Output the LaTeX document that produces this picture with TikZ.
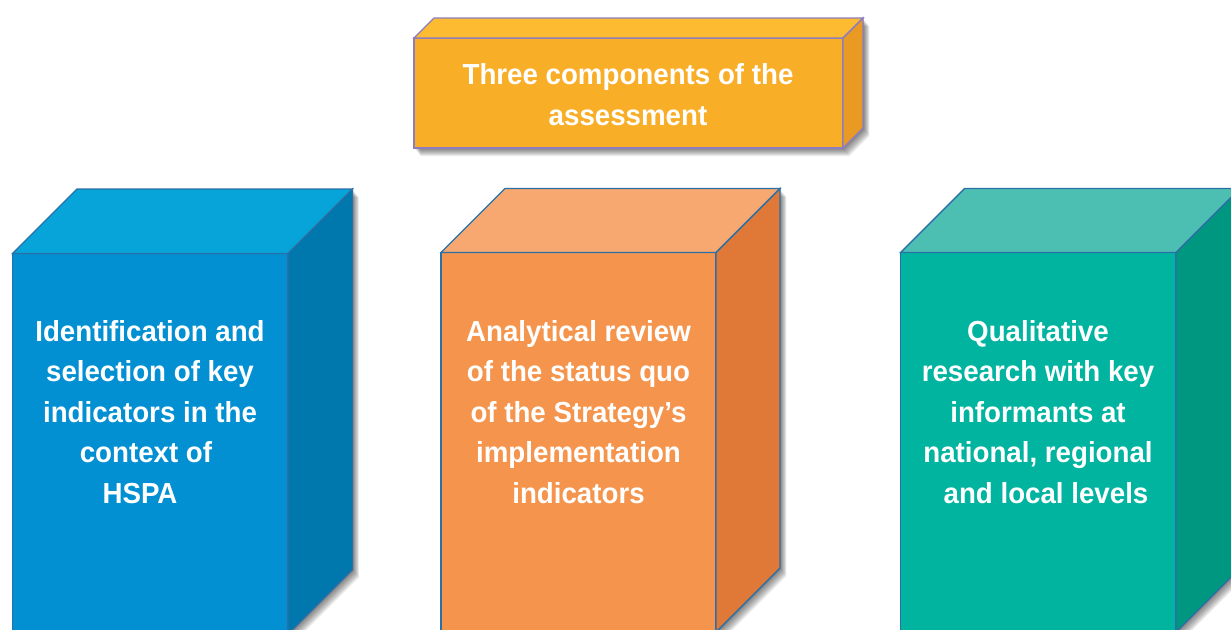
\documentclass[tikz,border=0pt]{standalone}
\usepackage{fontspec}
\setmainfont{Liberation Sans}
\newfontfamily\boxfont[FakeStretch=0.955]{Liberation Sans}
\begin{document}
\definecolor{hdFront}{HTML}{F9AE27}
\definecolor{hdTop}{HTML}{FCBB31}
\definecolor{hdSide}{HTML}{E89A22}
\definecolor{hdLine}{HTML}{8C7DC0}
\definecolor{bFront}{HTML}{0290D3}
\definecolor{bTop}{HTML}{07A4DA}
\definecolor{bSide}{HTML}{0077AD}
\definecolor{oFront}{HTML}{F5954D}
\definecolor{oTop}{HTML}{F7A870}
\definecolor{oSide}{HTML}{E07837}
\definecolor{tFront}{HTML}{00B4A0}
\definecolor{tTop}{HTML}{4CBFB2}
\definecolor{tSide}{HTML}{009780}
\definecolor{edge}{HTML}{2A70A6}
% cuboid: #1 name, #2 left, #3 top, #4 right, #5 bottom, #6 depth,
% #7 front, #8 top face, #9 side face; outline colour from \edgecol
\newcommand\drawcuboid[9]{%
  \coordinate (#1-fbl) at (#2,#5);
  \coordinate (#1-ftl) at (#2,#3);
  \coordinate (#1-ftr) at (#4,#3);
  \coordinate (#1-fbr) at (#4,#5);
  \coordinate (#1-btl) at (#2+#6,#3-#6);
  \coordinate (#1-btr) at (#4+#6,#3-#6);
  \coordinate (#1-bbr) at (#4+#6,#5-#6);
  % soft drop shadow, built from offset translucent layers
  \foreach \s in {1,...,8}{
    \fill[black, opacity=0.075]
      ([shift={(\s*0.8,\s)}]#1-fbl) -- ([shift={(\s*0.8,\s)}]#1-ftl)
      -- ([shift={(\s*0.8,\s)}]#1-btl) -- ([shift={(\s*0.8,\s)}]#1-btr)
      -- ([shift={(\s*0.8,\s)}]#1-bbr) -- ([shift={(\s*0.8,\s)}]#1-fbr) -- cycle;
  }
  \filldraw[fill=#7, boxline] (#1-fbl) rectangle (#1-ftr);
  \filldraw[fill=#8, boxline] (#1-ftl) -- (#1-btl) -- (#1-btr) -- (#1-ftr) -- cycle;
  \filldraw[fill=#9, boxline] (#1-ftr) -- (#1-btr) -- (#1-bbr) -- (#1-fbr) -- cycle;
}
\begin{tikzpicture}[x=1pt, y=-1pt,
  boxline/.style={draw=\edgecol, line width=1.4pt, line join=miter},
  lbl/.style={anchor=base, inner sep=0pt, text=white,
    font=\boxfont\fontsize{29}{40.4}\selectfont\bfseries}]
  \useasboundingbox (0,0) rectangle (1231,629);
  \fill[white] (0,0) rectangle (1231,629);
  \clip (0,0) rectangle (1231,629);

  % heading block
  \def\edgecol{hdLine}
  \drawcuboid{head}{414}{38}{843}{148}{20}{hdFront}{hdTop}{hdSide}
  \node[lbl] (head-t0) at (628,84) {Three components of the};
  \node[lbl] (head-t1) at (628,125.5) {assessment};

  % three component blocks
  \def\edgecol{edge}
  \drawcuboid{blue}{12.5}{253.5}{288}{634}{64.5}{bFront}{bTop}{bSide}
  \drawcuboid{orange}{441}{252.5}{716}{632}{64}{oFront}{oTop}{oSide}
  \drawcuboid{teal}{900.5}{252.5}{1176}{632}{64}{tFront}{tTop}{tSide}

  \foreach \t [count=\i from 0] in {Identification and, selection of key,
      indicators in the, context of\kern8pt, HSPA\kern20pt}
    \node[lbl] (blue-t\i) at (150,341.5+40.4*\i) {\t};
  \foreach \t [count=\i from 0] in {Analytical review, of the status quo,
      of the Strategy’s, implementation, indicators}
    \node[lbl] (orange-t\i) at (578.5,341.5+40.4*\i) {\t};
  \foreach \t [count=\i from 0] in {Qualitative, research with key,
      informants at, {national, regional}, \kern16pt and local levels}
    \node[lbl] (teal-t\i) at (1038,341.5+40.4*\i) {\t};
\end{tikzpicture}
\end{document}
